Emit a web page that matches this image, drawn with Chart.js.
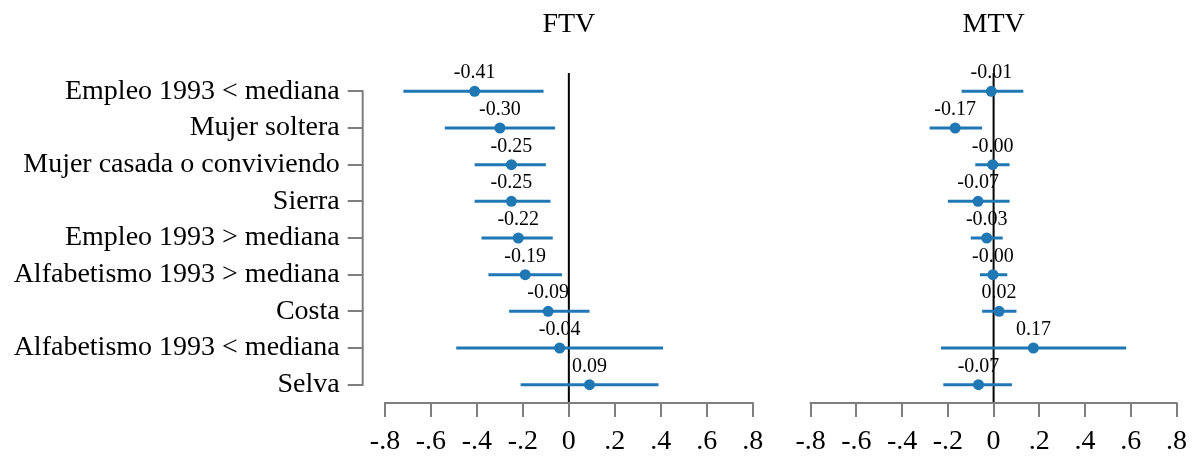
<!DOCTYPE html>
<html>
<head>
<meta charset="utf-8">
<script src="https://cdn.jsdelivr.net/npm/chart.js@4.4.1/dist/chart.umd.min.js"></script>
<style>
  body { margin: 0; background: #fff; }
  #wrap { position: relative; width: 1195px; height: 457px; }
  canvas { position: absolute; top: 0; }
</style>
</head>
<body>
<div id="wrap">
  <canvas id="ftvChart" width="780" height="457" style="left:0"></canvas>
  <canvas id="mtvChart" width="415" height="457" style="left:780px"></canvas>
</div>
<script>
const categories = [
    'Empleo 1993 < mediana',
    'Mujer soltera',
    'Mujer casada o conviviendo',
    'Sierra',
    'Empleo 1993 > mediana',
    'Alfabetismo 1993 > mediana',
    'Costa',
    'Alfabetismo 1993 < mediana',
    'Selva'
];

const ftvCoef = [-0.41, -0.30, -0.25, -0.25, -0.22, -0.19, -0.09, -0.04, 0.09];
const ftvLow = [-0.72, -0.54, -0.41, -0.41, -0.38, -0.35, -0.26, -0.49, -0.21];
const ftvHigh = [-0.11, -0.06, -0.10, -0.08, -0.07, -0.03, 0.09, 0.41, 0.39];

const mtvCoef = [-0.01, -0.168, -0.004, -0.068, -0.03, -0.003, 0.024, 0.174, -0.066];
const mtvLow = [-0.14, -0.28, -0.08, -0.20, -0.10, -0.06, -0.05, -0.23, -0.22];
const mtvHigh = [0.13, -0.05, 0.07, 0.07, 0.04, 0.06, 0.10, 0.58, 0.08];

const xTickValues = [-0.8, -0.6, -0.4, -0.2, 0, 0.2, 0.4, 0.6, 0.8];
const xTickLabels = ['-.8', '-.6', '-.4', '-.2', '0', '.2', '.4', '.6', '.8'];

const blue = '#1f77b4';
const gray = '#7f7f7f';
const serif = "'Liberation Serif', 'Times New Roman', serif";

function buildDatasets(coef, low, high) {
    const sets = [{
        data: coef.map((v, i) => ({ x: v, y: categories[i] })),
        pointRadius: 5.5,
        pointBackgroundColor: blue,
        pointBorderWidth: 0
    }];
    categories.forEach((c, i) => {
        sets.push({
            data: [{ x: low[i], y: c }, { x: high[i], y: c }],
            showLine: true,
            borderColor: blue,
            borderWidth: 3,
            borderCapStyle: 'butt',
            pointRadius: 0
        });
    });
    return sets;
}

function panelPlugin(title, coef, drawYAxis) {
    return {
        id: 'panel',
        beforeDatasetsDraw(chart) {
            const { ctx, chartArea, scales: { x, y } } = chart;
            ctx.save();
            ctx.lineWidth = 2;
            // zero reference line
            const x0 = x.getPixelForValue(0);
            ctx.strokeStyle = '#000';
            ctx.beginPath();
            ctx.moveTo(x0, chartArea.top);
            ctx.lineTo(x0, chartArea.bottom);
            ctx.stroke();
            // x axis line, only over the tick range
            ctx.strokeStyle = gray;
            ctx.beginPath();
            ctx.moveTo(x.getPixelForValue(xTickValues[0]) - 1, chartArea.bottom);
            ctx.lineTo(x.getPixelForValue(xTickValues[xTickValues.length - 1]) + 1, chartArea.bottom);
            ctx.stroke();
            if (drawYAxis) {
                ctx.beginPath();
                ctx.moveTo(chartArea.left, y.getPixelForValue(0) - 1);
                ctx.lineTo(chartArea.left, y.getPixelForValue(categories.length - 1) + 1);
                ctx.stroke();
            }
            ctx.restore();
        },
        afterDatasetsDraw(chart) {
            const { ctx, scales: { x } } = chart;
            const meta = chart.getDatasetMeta(0);
            ctx.save();
            ctx.fillStyle = '#000';
            ctx.textAlign = 'center';
            ctx.textBaseline = 'alphabetic';
            ctx.font = '20px ' + serif;
            meta.data.forEach((pt, i) => {
                ctx.fillText(coef[i].toFixed(2), pt.x, pt.y - 13);
            });
            ctx.font = '28px ' + serif;
            ctx.fillText(title, x.getPixelForValue(0), 32);
            ctx.restore();
        }
    };
}

function xScale(min) {
    return {
        type: 'linear',
        min: min,
        max: 0.8,
        afterBuildTicks: (s) => { s.ticks = xTickValues.map((v) => ({ value: v })); },
        afterFit: (s) => { s.height = 54; },
        grid: { drawOnChartArea: false, tickLength: 14, color: gray, lineWidth: 2 },
        border: { display: false },
        ticks: {
            callback: (v, i) => xTickLabels[i],
            font: { family: serif, size: 28 },
            color: '#000',
            padding: 8,
            maxRotation: 0,
            autoSkip: false
        }
    };
}

const common = {
    responsive: false,
    animation: false,
    plugins: { legend: { display: false }, tooltip: { enabled: false } }
};

new Chart(document.getElementById('ftvChart'), {
    type: 'scatter',
    data: { datasets: buildDatasets(ftvCoef, ftvLow, ftvHigh) },
    options: {
        ...common,
        layout: { padding: { top: 73, right: 27.3, left: 0, bottom: 0 } },
        scales: {
            x: xScale(-0.897),
            y: {
                type: 'category',
                labels: categories,
                offset: true,
                afterFit: (s) => { s.width = 362.7; },
                grid: { offset: false, drawOnChartArea: false, tickLength: 15, color: gray, lineWidth: 2 },
                border: { display: false },
                ticks: { font: { family: serif, size: 28 }, color: '#000', padding: 8, autoSkip: false }
            }
        }
    },
    plugins: [panelPlugin('FTV', ftvCoef, true)]
});

new Chart(document.getElementById('mtvChart'), {
    type: 'scatter',
    data: { datasets: buildDatasets(mtvCoef, mtvLow, mtvHigh) },
    options: {
        ...common,
        layout: { padding: { top: 73, right: 17.7, left: 30.7, bottom: 0 } },
        scales: {
            x: xScale(-0.8),
            y: { type: 'category', labels: categories, offset: true, display: false }
        }
    },
    plugins: [panelPlugin('MTV', mtvCoef, false)]
});
</script>
</body>
</html>
